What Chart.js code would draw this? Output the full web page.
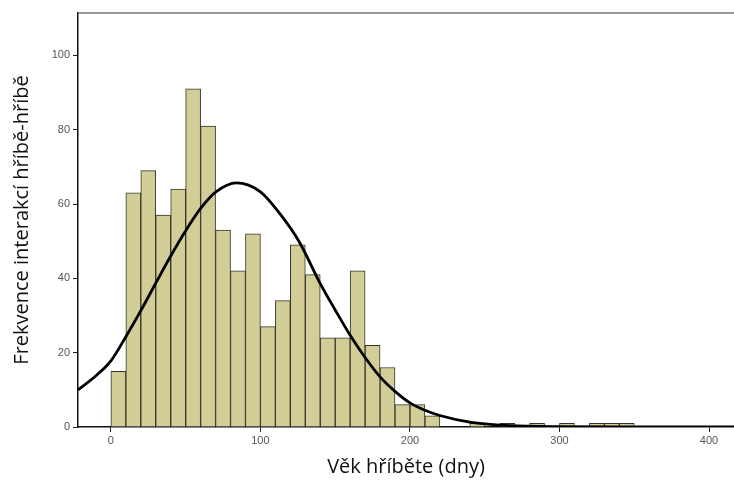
<!DOCTYPE html>
<html>
<head>
<meta charset="utf-8">
<script src="https://cdn.jsdelivr.net/npm/chart.js@4.4.1/dist/chart.umd.min.js"></script>
<style>
  html, body { margin: 0; padding: 0; background: #fff; overflow: hidden; }
  canvas { display: block; }
</style>
</head>
<body>
<canvas id="histChart" width="734" height="483"></canvas>
<script>
// levé hrany tříd (šířka 10 dní) a četnosti
var binStarts = [0,10,20,30,40,50,60,70,80,90,100,110,120,130,140,150,160,170,180,190,200,210,220,230,240,250,260,270,280,290,300,310,320,330,340];
var counts    = [15,63,69,57,64,91,81,53,42,52,27,34,49,41,24,24,42,22,16,6,6,3,0,0,1,0,1,0,1,0,1,0,1,1,1];

// normální křivka
var curveX = [-22,-10,0,10,20,30,40,50,60,70,84,100,113,126,140,150,160,170,180,190,200,210,220,240,260,280,300,340,420];
var curveY = [10,13.8,17.8,24.3,31.3,38.7,46,52.8,58.8,63.2,65.7,63.3,57.4,49.8,38.6,31.5,24.7,18.7,13.5,9.6,6.5,4.5,3.1,1.3,0.5,0.2,0.1,0,0];

var xTicks = [0,100,200,300,400];
var yTicks = [0,20,40,60,80,100];

var barData = binStarts.map(function(s, i) { return { x: s + 5, y: counts[i] }; });
var lineData = curveX.map(function(x, i) { return { x: x, y: curveY[i] }; });

// horní rám grafu
var topBorder = {
    id: 'topBorder',
    afterDraw: function(chart) {
        var a = chart.chartArea, c = chart.ctx;
        c.save();
        c.strokeStyle = '#777';
        c.lineWidth = 1.5;
        c.beginPath();
        c.moveTo(a.left, a.top);
        c.lineTo(chart.width, a.top);
        c.stroke();
        c.restore();
    }
};

var ctx = document.getElementById('histChart').getContext('2d');
var histChart = new Chart(ctx, {
    type: 'bar',
    data: {
        datasets: [{
            type: 'line',
            data: lineData,
            borderColor: '#000',
            borderWidth: 2.8,
            pointRadius: 0,
            fill: false,
            cubicInterpolationMode: 'monotone',
            order: 0
        }, {
            type: 'bar',
            data: barData,
            backgroundColor: '#d3ce97',
            borderColor: '#35342a',
            borderWidth: 1,
            barPercentage: 1,
            categoryPercentage: 1,
            order: 1
        }]
    },
    options: {
        responsive: false,
        animation: false,
        devicePixelRatio: 1,
        layout: { padding: { top: 13, right: 0, left: 0, bottom: 0 } },
        plugins: { legend: { display: false }, tooltip: { enabled: false } },
        scales: {
            x: {
                type: 'linear',
                offset: false,
                min: -22,
                max: 416.7,
                afterBuildTicks: function(s) { s.ticks = xTicks.map(function(v) { return { value: v }; }); },
                afterFit: function(s) { s.height = 56; },
                grid: { drawOnChartArea: false, drawTicks: true, tickLength: 5, color: '#222', offset: false },
                border: { display: true, color: '#111', width: 1.5 },
                ticks: { color: '#555', font: { family: 'Liberation Sans', size: 11 }, padding: 2, maxRotation: 0 },
                title: {
                    display: true,
                    text: 'Věk hříběte (dny)',
                    color: '#111',
                    font: { family: 'Open Sans', size: 20 },
                    padding: { top: 0, bottom: 4 }
                }
            },
            y: {
                min: 0,
                max: 111.4,
                afterBuildTicks: function(s) { s.ticks = yTicks.map(function(v) { return { value: v }; }); },
                afterFit: function(s) { s.width = 78; },
                grid: { drawOnChartArea: false, drawTicks: true, tickLength: 5, color: '#222' },
                border: { display: true, color: '#111', width: 1.5 },
                ticks: { color: '#555', font: { family: 'Liberation Sans', size: 11 }, padding: 3 },
                title: {
                    display: true,
                    text: 'Frekvence interakcí hříbě-hříbě',
                    color: '#111',
                    font: { family: 'Open Sans', size: 20 },
                    padding: { top: 10, bottom: 0 }
                }
            }
        }
    },
    plugins: [topBorder]
});
</script>
</body>
</html>
